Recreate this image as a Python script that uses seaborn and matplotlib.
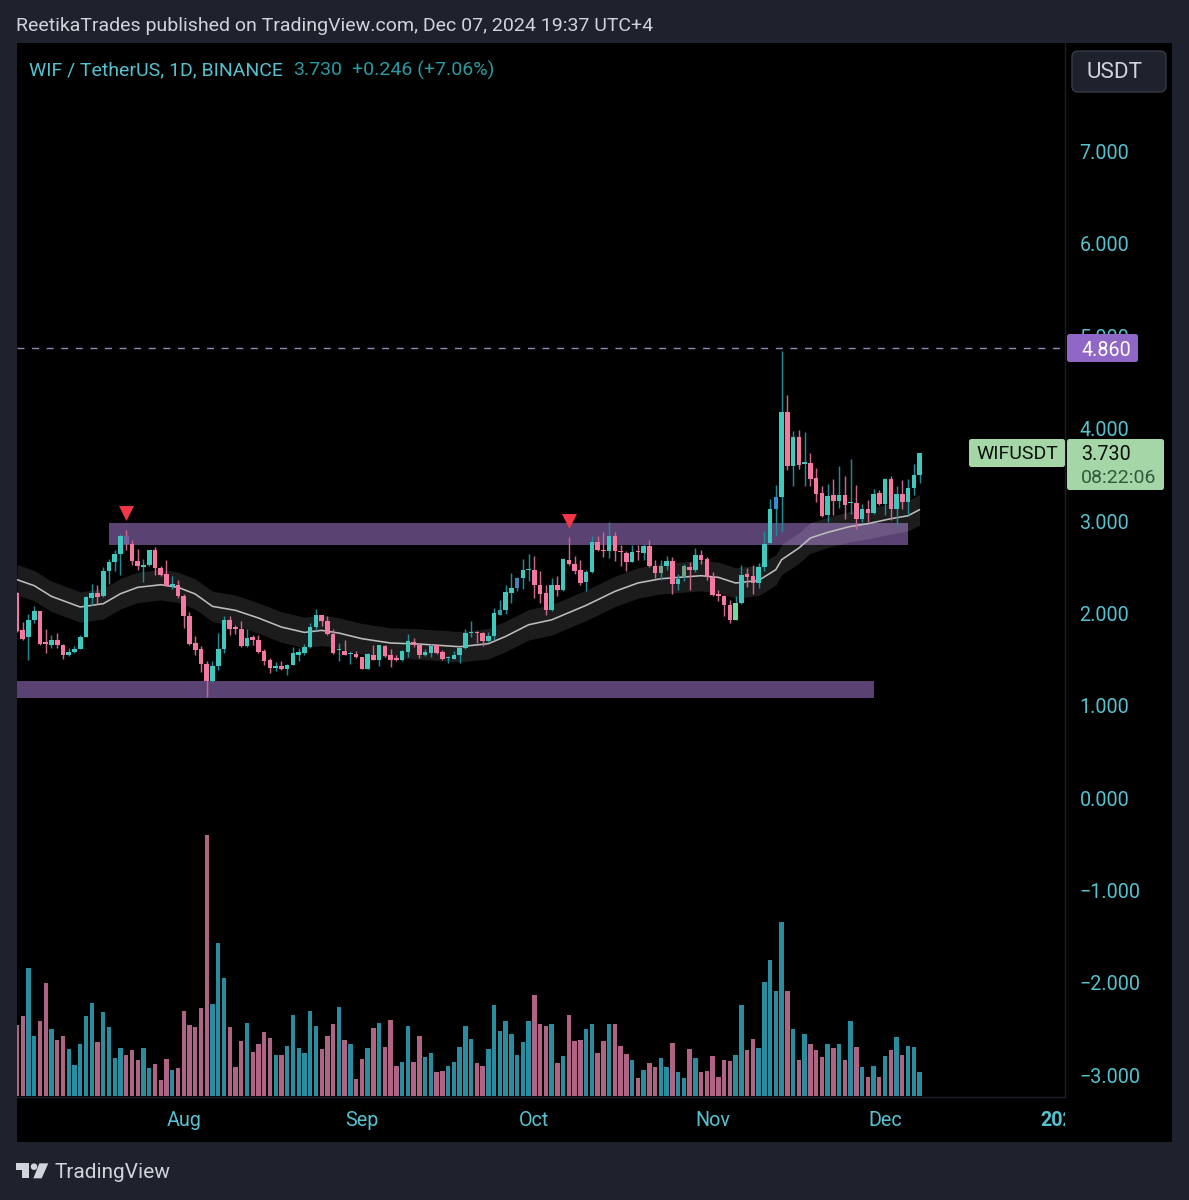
import numpy as np
import pandas as pd
import seaborn as sns
import matplotlib
matplotlib.use("Agg")
import matplotlib.pyplot as plt
from matplotlib.patches import Rectangle, FancyBboxPatch, Polygon, Circle
from matplotlib.transforms import Affine2D, Bbox, TransformedBbox, IdentityTransform

# WIF/USDT daily session data, oldest first
opens = [2.21,1.813,1.73,1.922,2.012,1.676,1.651,1.705,1.651,1.539,1.568,1.608,1.734,2.156,2.21,2.174,2.445,2.542,2.636,2.824,
         2.741,2.56,2.49,2.517,2.672,2.481,2.42,2.282,2.30,2.18,1.965,1.669,1.604,1.445,1.254,1.416,1.604,1.922,1.838,1.82,
         1.633,1.734,1.705,1.579,1.481,1.398,1.424,1.387,1.434,1.535,1.56,1.622,1.842,1.972,1.911,1.77,1.59,1.586,1.553,1.55,
         1.517,1.391,1.535,1.488,1.64,1.535,1.506,1.481,1.572,1.676,1.651,1.535,1.561,1.644,1.572,1.51,1.5,1.543,1.615,1.777,
         1.792,1.777,1.687,1.741,1.976,2.023,2.21,2.264,2.369,2.46,2.463,2.30,2.21,2.03,2.30,2.246,2.564,2.528,2.463,2.326,
         2.434,2.763,2.679,2.669,2.831,2.661,2.643,2.546,2.661,2.643,2.723,2.506,2.427,2.499,2.56,2.311,2.384,2.492,2.463,2.622,
         2.582,2.384,2.20,2.182,2.084,1.921,2.102,2.416,2.391,2.319,2.488,2.752,3.123,3.25,4.166,3.589,3.899,3.61,3.618,3.455,
         3.293,3.051,3.268,3.21,3.275,3.185,3.185,3.015,3.123,3.077,3.293,3.177,3.448,3.123,3.282,3.196,3.347,3.491]
closes = [1.80,1.716,1.922,2.012,1.658,1.662,1.705,1.651,1.543,1.568,1.608,1.73,2.167,2.21,2.167,2.445,2.542,2.636,2.824,2.741,
          2.553,2.50,2.517,2.672,2.481,2.409,2.29,2.311,2.174,1.965,1.658,1.597,1.445,1.254,1.416,1.604,1.914,1.82,1.82,1.633,
          1.723,1.698,1.572,1.47,1.398,1.424,1.391,1.434,1.56,1.568,1.622,1.842,1.976,1.904,1.766,1.561,1.604,1.535,1.56,1.517,
          1.391,1.553,1.488,1.644,1.525,1.488,1.488,1.579,1.687,1.651,1.543,1.572,1.633,1.561,1.5,1.521,1.543,1.615,1.777,1.788,
          1.781,1.687,1.741,1.994,2.03,2.217,2.264,2.373,2.463,2.47,2.30,2.203,2.03,2.293,2.246,2.578,2.521,2.445,2.319,2.438,
          2.759,2.672,2.669,2.831,2.661,2.65,2.546,2.658,2.65,2.723,2.499,2.427,2.506,2.553,2.311,2.362,2.499,2.463,2.618,2.571,
          2.384,2.192,2.174,2.077,1.914,2.102,2.409,2.384,2.319,2.488,2.741,3.123,3.25,4.166,3.589,3.899,3.60,3.625,3.448,3.286,
          3.04,3.264,3.21,3.275,3.167,3.196,3.011,3.12,3.077,3.286,3.177,3.445,3.12,3.282,3.196,3.347,3.491,3.726]
highs = [2.22,1.896,1.987,2.066,2.02,1.821,1.752,1.777,1.66,1.615,1.633,1.76,2.18,2.311,2.30,2.492,2.582,2.679,2.849,2.896,
         2.78,2.687,2.578,2.68,2.708,2.506,2.571,2.391,2.355,2.203,2.0,1.741,1.633,1.47,1.478,1.777,1.958,1.958,1.867,1.904,
         1.82,1.752,1.752,1.608,1.507,1.46,1.478,1.441,1.626,1.615,1.658,1.885,2.037,1.976,1.958,1.821,1.669,1.698,1.579,1.579,
         1.52,1.56,1.644,1.651,1.65,1.608,1.543,1.59,1.77,1.723,1.669,1.604,1.662,1.651,1.597,1.525,1.586,1.626,1.821,1.903,
         1.803,1.785,1.785,2.048,2.138,2.293,2.427,2.384,2.578,2.636,2.607,2.445,2.293,2.373,2.391,2.59,2.813,2.607,2.571,2.463,
         2.824,2.824,2.871,2.979,2.871,2.733,2.669,2.733,2.733,2.745,2.788,2.571,2.564,2.614,2.60,2.416,2.524,2.542,2.697,2.679,
         2.60,2.438,2.246,2.192,2.131,2.181,2.517,2.481,2.51,2.535,2.878,3.228,3.383,4.834,4.358,3.968,3.979,3.95,3.726,3.564,
         3.372,3.39,3.445,3.582,3.481,3.661,3.383,3.178,3.22,3.336,3.322,3.456,3.481,3.372,3.437,3.448,3.607,3.73]
lows = [1.79,1.705,1.489,1.886,1.65,1.561,1.615,1.615,1.50,1.532,1.561,1.60,1.73,2.084,2.095,2.167,2.311,2.445,2.409,2.679,
        2.517,2.463,2.326,2.506,2.409,2.391,2.282,2.257,2.156,1.831,1.651,1.543,1.355,1.084,1.247,1.373,1.56,1.752,1.766,1.626,
        1.626,1.651,1.56,1.427,1.344,1.362,1.38,1.326,1.427,1.47,1.535,1.615,1.813,1.85,1.759,1.553,1.478,1.535,1.442,1.506,
        1.385,1.385,1.481,1.416,1.514,1.405,1.47,1.47,1.514,1.626,1.506,1.525,1.514,1.55,1.488,1.452,1.496,1.449,1.604,1.734,
        1.669,1.633,1.676,1.705,1.969,1.986,2.102,2.228,2.257,2.337,2.156,2.102,1.976,2.012,2.174,2.228,2.517,2.42,2.30,2.228,
        2.427,2.661,2.596,2.589,2.553,2.506,2.445,2.542,2.571,2.571,2.488,2.373,2.347,2.463,2.203,2.246,2.337,2.246,2.438,2.528,
        2.347,2.182,2.12,1.965,1.885,1.914,2.095,2.275,2.203,2.264,2.445,2.745,2.824,2.867,3.538,3.365,3.556,3.372,3.365,3.192,
        3.033,2.975,3.051,3.131,3.015,3.066,2.903,2.975,2.975,3.066,3.167,3.051,3.004,2.932,3.123,3.051,3.275,3.401]
volumes = [71,80,128,60,75,113,67,56,60,47,31,52,80,93,54,84,69,38,48,41,46,36,48,28,32,16,37,26,28,85,71,69,88,261,92,153,118,69,29,55,
           73,44,52,64,58,41,41,50,81,48,43,85,70,47,60,72,89,56,52,17,37,48,68,73,49,76,30,34,70,34,60,39,43,24,25,30,34,49,70,57,
           33,30,47,91,65,75,62,41,54,75,101,72,70,72,33,40,81,55,56,67,72,43,55,72,72,50,42,36,18,26,33,29,38,29,53,24,18,47,38,24,
           25,40,19,36,35,41,91,46,57,48,114,136,105,174,105,67,36,62,52,46,39,52,48,52,36,75,49,29,19,30,19,40,46,59,41,50,49,24]

# Slow moving average sampled at its turning points
ma_days = [0,3,6,11,15,18,21,25,28,31,34,38,42,46,50,53,56,60,65,70,77,82,85,89,93,99,104,108,112,116,119,122,125,129,132,133,136,138,141,145,148,152,155,157]
ma_vals = [2.355,2.29,2.174,2.059,2.095,2.203,2.272,2.30,2.272,2.20,2.066,2.023,1.94,1.842,1.784,1.806,1.777,1.716,1.669,1.658,1.629,1.662,1.741,1.867,1.92,2.077,2.228,2.319,2.365,2.384,2.398,2.38,2.319,2.347,2.463,2.571,2.697,2.806,2.867,2.932,2.961,3.015,3.047,3.113]
ma_band = 0.165

zone_days = [[16, 155], [0, 149]]
zone_prices = [[2.734, 2.972], [1.077, 1.261]]
signal_days = [19, 96]
signal_prices = [3.08, 2.994]
peak_level = 4.86

price_ticks = [7, 6, 5, 4, 3, 2, 1, 0, -1, -2, -3]
price_labels = ["7.000", "6.000", "5.000", "4.000", "3.000", "2.000", "1.000", "0.000", "\u22121.000", "\u22122.000", "\u22123.000"]
month_days = [29, 60, 90, 121, 151, 182]
month_labels = ["Aug", "Sep", "Oct", "Nov", "Dec", "2025"]

# Candles carrying an indicator tint
body_tints = {19: "#7a5f9c", 84: "#2f9fb0", 87: "#4a80b8", 112: "#7fa08a", 116: "#6f9f80", 125: "#6fdc9a", 132: "#2f8fd0"}

W, H = 1189, 1200
FRAME = "#1e222d"
BLACK = "#000000"
TICK = "#56c2d0"
UP_BODY, UP_WICK, DOWN_BODY, DOWN_WICK = "#3fc8be", "#1f8b96", "#f4789f", "#c8668c"
VOL_UP, VOL_DOWN = "#2a8d9f", "#ae6482"

sns.set_theme(style="dark")
plt.rcParams["font.family"] = ["Roboto", "DejaVu Sans"]
plt.rcParams["axes.grid"] = False


def fx(x):
    return x / W


def fy(y):
    return 1 - y / H


fig = plt.figure(figsize=(W / 100, H / 100), dpi=100, facecolor=FRAME)
fig.add_artist(Rectangle((fx(17), fy(1142)), fx(1155), (1142 - 43) / H, transform=fig.transFigure,
                         fc=BLACK, ec="none", zorder=0))
rect = [fx(17), fy(1097), fx(1048), (1097 - 43) / H]

days = np.arange(len(opens))
o, c, h, l = map(np.array, (opens, closes, highs, lows))
rising = c >= o
XLIM = (0, 182.3)

# Volume histogram along the bottom of the pane
vol_ax = fig.add_axes(rect, zorder=1, facecolor="none")
vol_df = pd.DataFrame({"day": days, "volume": volumes, "dir": np.where(rising, "up", "down")})
sns.barplot(data=vol_df, x="day", y="volume", hue="dir", palette={"up": VOL_UP, "down": VOL_DOWN},
            native_scale=True, dodge=False, width=0.76, errorbar=None, legend=False, saturation=1,
            linewidth=0, edgecolor="none", ax=vol_ax)
vol_ax.set_xlim(*XLIM)
vol_ax.set_ylim(-1, 1053)
vol_ax.set_axis_off()

# Price pane
ax = fig.add_axes(rect, zorder=2, facecolor="none")
ax.set_xlim(*XLIM)
ax.set_ylim((797.2 - 1097) / 92.37, (797.2 - 43) / 92.37)

for (d0, d1), (p0, p1) in zip(zone_days, zone_prices):
    ax.add_patch(Rectangle((d0, p0), d1 - d0, p1 - p0, fc="#5a4273", ec="none", zorder=1))

ma_days_arr, ma_vals_arr = np.array(ma_days), np.array(ma_vals)
ax.fill_between(ma_days_arr, ma_vals_arr - ma_band, ma_vals_arr + ma_band, color="white", alpha=0.115, lw=0, zorder=2)
sns.lineplot(x=ma_days, y=ma_vals, color="#bdbdbd", lw=1.15, ax=ax, zorder=3, errorbar=None)

ax.vlines(days, l, h, colors=np.where(rising, UP_WICK, DOWN_WICK), lw=1.05, zorder=4)
body_colors = [body_tints.get(i, UP_BODY if r else DOWN_BODY) for i, r in enumerate(rising)]
ax.bar(days, np.abs(c - o), bottom=np.minimum(o, c), width=0.8, color=body_colors, lw=0, zorder=5)

ax.scatter(signal_days, signal_prices, marker="v", s=115, color="#f23645", lw=0, zorder=6)
ax.axhline(peak_level, color="#8f8ab8", lw=1, dashes=(5, 5.5), zorder=2)

ax.yaxis.tick_right()
ax.set_yticks(price_ticks, price_labels)
ax.set_xticks(month_days, month_labels)
ax.set_xlabel("")
ax.set_ylabel("")
ax.tick_params(axis="y", length=0, pad=10.5, labelsize=14.2, labelcolor=TICK)
ax.tick_params(axis="x", length=0, pad=10, labelsize=14.2, labelcolor=TICK)
for tick_label in ax.get_yticklabels():
    tick_label.set_transform(tick_label.get_transform() + Affine2D().translate(0, -1))
for side in ("top", "left"):
    ax.spines[side].set_visible(False)
for side in ("right", "bottom"):
    ax.spines[side].set_color("#1c1f28")
    ax.spines[side].set_linewidth(1)

# The year label runs into the price scale and is cut off there
year_label = ax.get_xticklabels()[-1]
year_label.set_fontweight("bold")
year_label.set_clip_on(True)
year_label.set_clip_box(TransformedBbox(Bbox([[0, 0], [fx(1065), 1]]), fig.transFigure))


def box(x0, y0, x1, y1, color, edge="none", radius=2.5, z=5):
    fig.add_artist(FancyBboxPatch((x0, H - y1), x1 - x0, y1 - y0, boxstyle=f"round,pad=0,rounding_size={radius}",
                                  fc=color, ec=edge, lw=1, zorder=z, transform=IdentityTransform()))


def label(x, y, s, color, size=14, ha="left", **kw):
    fig.text(fx(x), fy(y), s, color=color, fontsize=size, ha=ha, va="center", zorder=6, **kw)


# Header and legend line
label(16.5, 26, "ReetikaTrades published on TradingView.com, Dec 07, 2024 19:37 UTC+4", "#d1d4dc", 14.03)
label(29, 70, "WIF / TetherUS, 1D, BINANCE", TICK, 14)
label(293, 70, "3.730", "#2a9aa2", 14)
label(352, 70, "+0.246 (+7.06%)", "#2a9aa2", 14)

# Currency button and price-scale tags
box(1072, 51, 1166, 92, FRAME, edge="#363a45", radius=6)
label(1087, 73, "USDT", "#d1d4dc", 16.2)
box(1067, 334, 1138, 362, "#9067c6")
label(1081, 350, "4.860", "#ffffff", 14.2)
box(969, 439, 1065, 467, "#a5d6a7")
label(976, 454.5, "WIFUSDT", "#0a0f0a", 14)
box(1067, 439, 1164, 490, "#a5d6a7")
label(1081, 454.5, "3.730", "#0a0f0a", 14.2)
label(1081, 478, "08:22:06", "#2f5a3c", 14)

# Footer wordmark
logo = "#d1d4dc"
lx = lambda z: z / 3
ly = lambda z: 1090 + z / 3
for pts in ([(48, 220), (88, 220), (88, 265), (66, 265), (66, 240), (48, 240)],
            [(118, 220), (145, 220), (125, 265), (100, 265)]):
    fig.add_artist(Polygon([(fx(lx(a)), fy(ly(b))) for a, b in pts], closed=True, fc=logo, ec="none",
                           transform=fig.transFigure, zorder=6))
fig.add_artist(Circle((lx(102), H - ly(230)), 3.3, fc=logo, ec="none", transform=IdentityTransform(), zorder=6))
label(54.5, 1173, "TradingView", logo, 15)

fig.savefig("out.png", dpi=100, facecolor=FRAME)
